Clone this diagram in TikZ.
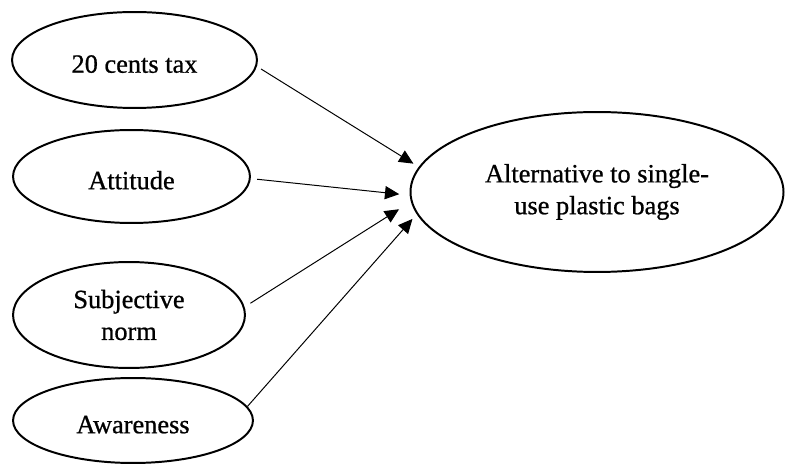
\documentclass[tikz,border=0pt]{standalone}
\usepackage{fontspec}
\setmainfont[FakeBold=0.8]{Liberation Serif}
\usetikzlibrary{shapes.geometric,arrows.meta}

\begin{document}
\begin{tikzpicture}[x=0.016cm, y=-0.016cm,
        oval/.style={draw, ellipse, line width=0.9pt, inner sep=0pt, align=center, font=\fontsize{12pt}{14.5pt}\selectfont},
        oneline/.style={text height=11.6pt, text depth=0pt},
        arr/.style={-{Triangle[length=6.5pt, width=6pt]}, line width=0.45pt}]
        \useasboundingbox (0,0) rectangle (785,464);

        \node[oval, oneline, minimum width=3.92cm, minimum height=1.536cm] (tax) at (134.5,60) {20 cents tax};
        \node[oval, oneline, minimum width=3.792cm, minimum height=1.488cm] (att) at (131.5,176.5) {Attitude};
        \node[oval, minimum width=3.712cm, minimum height=1.696cm] (norm) at (129,315) {Subjective\\norm};
        \node[oval, oneline, minimum width=3.84cm, minimum height=1.36cm] (aware) at (133,420.5) {Awareness};
        \node[oval, minimum width=5.97cm, minimum height=2.56cm] (alt) at (597,192) {Alternative to single-\\use plastic bags};

        \draw[arr, shorten <=0.078cm, shorten >=0.1cm] (tax.-3) -- (alt.172.4);
        \draw[arr, shorten <=0.1cm, shorten >=0.168cm] (att.-1.4) -- (alt.181.6);
        \draw[arr, shorten <=0.109cm, shorten >=0.224cm] (norm.4.8) -- (alt.183.6);
        \draw[arr, shorten >=0.102cm] (aware.7.3) -- (alt.187);
\end{tikzpicture}
\end{document}
